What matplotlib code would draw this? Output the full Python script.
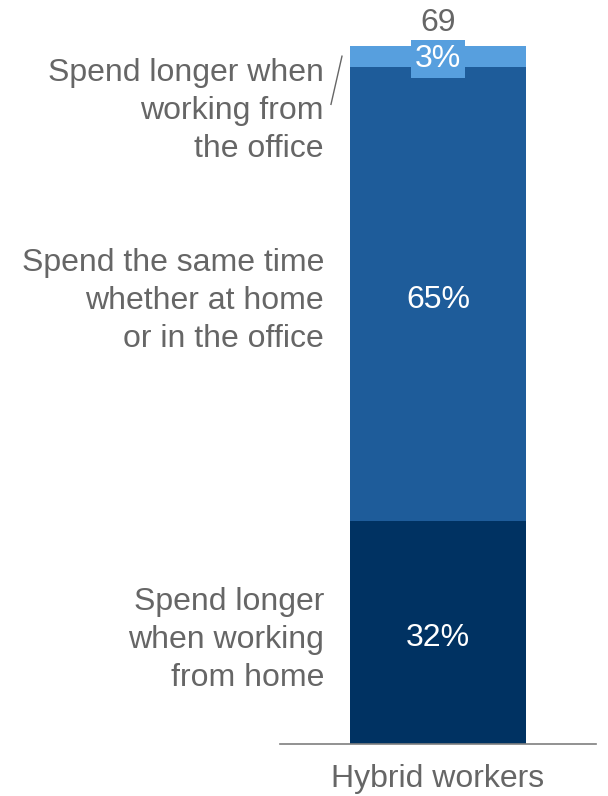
import matplotlib.pyplot as plt

plt.rcParams['font.family'] = ['Liberation Sans', 'DejaVu Sans']

# Survey shares (bottom to top)
categories = ["Hybrid workers"]
segment_labels = [
    "Spend longer\nwhen working\nfrom home",
    "Spend the same time\nwhether at home\nor in the office",
    "Spend longer when\nworking from\nthe office",
]
values = [32, 65, 3]
respondents = 69
colors = ["#003262", "#1E5C9A", "#579FDE"]

GREY = "#666666"
FS = 23

fig = plt.figure(figsize=(6.08, 7.96), dpi=100)
ax = fig.add_axes([0.4605, 0.0647, 0.5197, 0.877])
ax.set_xlim(-0.5, 0.5)
ax.set_ylim(0, 100)

bar_w = 0.557
bottom = 0
for v, c in zip(values, colors):
    ax.bar(0, v, width=bar_w, bottom=bottom, color=c, linewidth=0)
    bottom += v

# Value labels inside the segments
bottoms = [sum(values[:i]) for i in range(len(values))]
for i, (v, b) in enumerate(zip(values, bottoms)):
    yc = b + v / 2
    if i == len(values) - 1:
        ax.text(0, yc - 0.3, f"{v}%", ha="center", va="center", color="white",
                fontsize=FS, clip_on=False,
                bbox=dict(boxstyle="square,pad=0.12", fc=colors[i], ec="none"))
    else:
        ax.text(0, yc - 0.8, f"{v}%", ha="center", va="center", color="white",
                fontsize=FS)

# Total respondents above the bar
ax.text(0, 100 + 3.4, f"{respondents}", ha="center", va="center",
        color=GREY, fontsize=FS, clip_on=False)

# Segment descriptions to the left of the bar
label_x = -0.5 + (324 - 280) / 316
label_y = [15.0, 63.5, 90.7]
for txt, y in zip(segment_labels, label_y):
    ax.text(label_x, y, txt, ha="right", va="center", color=GREY,
            fontsize=FS, linespacing=1.35, clip_on=False)

# Leader line for the thin top segment
x0 = -0.5 + (342 - 280) / 316
x1 = -0.5 + (331 - 280) / 316
ax.plot([x0, x1], [98.6, 91.7], color=GREY, lw=1, clip_on=False)

# Category axis
for s in ["top", "right", "left"]:
    ax.spines[s].set_visible(False)
ax.spines["bottom"].set_color("#7f7f7f")
ax.spines["bottom"].set_linewidth(1.2)
ax.set_yticks([])
ax.set_xticks([0])
ax.set_xticklabels(categories, fontsize=FS, color=GREY)
ax.tick_params(axis="x", length=0, pad=14)

fig.savefig("out.png", dpi=100, facecolor="white")
